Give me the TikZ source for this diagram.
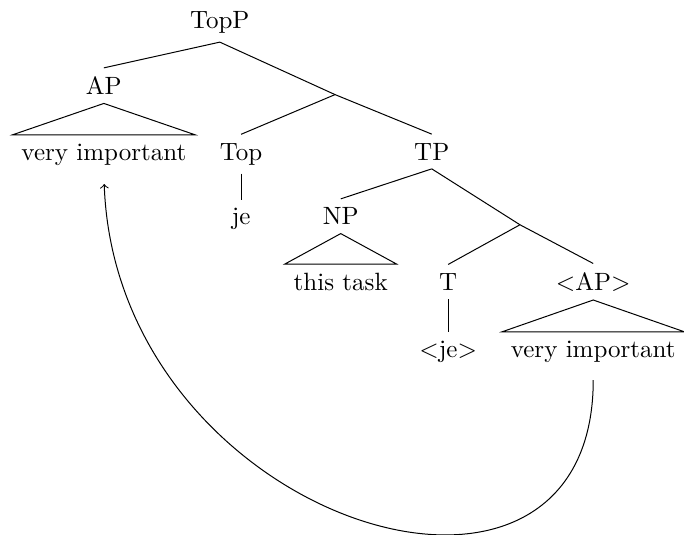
\documentclass[tikz,border=0pt]{standalone}
\usetikzlibrary{arrows}

\tikzset{
    % labels
    cat/.style={
        anchor=base,
        inner sep=3.33pt
    },
    % empty branching points
    bar/.style={
        coordinate
    },
    % edges
    branch/.style={
        line width=0.4pt
    },
    roof/.style={
        line width=0.4pt
    },
    move/.style={
        line width=0.4pt,
        shorten <=3.6pt,
        shorten >=4pt
    }
}

\begin{document}
\begin{tikzpicture}[>=to]

        \useasboundingbox (0, 0) rectangle (9.616, -7.521);

        % draw nodes
        \node [cat] (topp) at (3.09, -0.40) {TopP};

        \node [cat] (ap) at (1.46, -1.33) {AP};
        \coordinate [bar] (bar-1) at (4.71, -1.33);

        \node [cat] (vi-1) at (1.46, -2.25) {very important};
        \node [cat] (top) at (3.39, -2.25) {Top};
        \node [cat] (tp) at (6.07, -2.25) {TP};

        \node [cat] (je-1) at (3.39, -3.16) {je};
        \node [cat] (np) at (4.79, -3.16) {NP};
        \coordinate [bar] (bar-2) at (7.31, -3.16);

        \node [cat] (task) at (4.79, -4.08) {this task};
        \node [cat] (t) at (6.30, -4.08) {T};
        \node [cat] (ap-2) at (8.34, -4.08) {$<$AP$>$};

        \node [cat] (je-2) at (6.30, -5.02) {$<$je$>$};
        \node [cat] (vi-2) at (8.34, -5.02) {very important};

        % draw edges
        \foreach \a/\b in {topp/ap, tp/np, top/je-1, t/je-2}
            \draw [branch] (\a.south) -- (\b.north);
        \draw [branch] (topp.south) -- (bar-1) -- (tp.north);
        \draw [branch] (bar-1) -- (top.north);
        \draw [branch] (tp.south) -- (bar-2) -- (ap-2.north);
        \draw [branch] (bar-2) -- (t.north);

        % roofs
        \foreach \a/\b in {ap/vi-1, np/task, ap-2/vi-2}
            \draw [roof] (\a.south) -- (\b.north west) -- (\b.north east) -- cycle;

        % movement
        \draw [->, move] (vi-2.south) .. controls +(0, -4.22) and +(0.17, -4.88) .. (vi-1.south);

\end{tikzpicture}
\end{document}
